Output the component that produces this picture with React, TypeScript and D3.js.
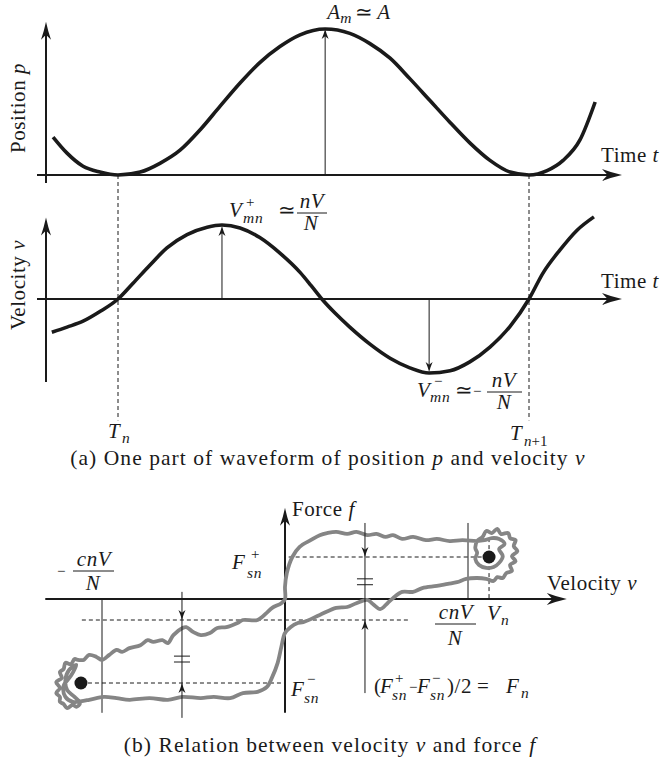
import React from 'react';
import * as d3 from 'd3';

// ---- Waveform data: time normalised so that T_n = 0 and T_{n+1} = 1 ----
const posT = [-0.158, -0.124, -0.085, -0.044, 0, 0.054, 0.102, 0.151, 0.2, 0.248, 0.297, 0.345, 0.394, 0.443, 0.504, 0.564, 0.613, 0.662, 0.71, 0.759, 0.808, 0.856, 0.905, 0.954, 1.0, 1.044, 1.083, 1.124, 1.161];
// position p / A
const posP = [0.26, 0.15, 0.06, 0.02, 0, 0.02, 0.08, 0.17, 0.31, 0.47, 0.63, 0.77, 0.88, 0.96, 1.0, 0.97, 0.9, 0.8, 0.66, 0.51, 0.36, 0.22, 0.1, 0.02, 0, 0.03, 0.1, 0.24, 0.5];

const velT = [-0.161, -0.124, -0.085, -0.044, 0, 0.036, 0.078, 0.119, 0.168, 0.217, 0.253, 0.297, 0.345, 0.394, 0.443, 0.47, 0.496, 0.528, 0.564, 0.613, 0.662, 0.71, 0.757, 0.808, 0.856, 0.905, 0.954, 1.0, 1.034, 1.075, 1.117, 1.158];
// velocity v / (nV/N)
const velV = [-0.45, -0.38, -0.3, -0.17, 0, 0.21, 0.46, 0.69, 0.87, 0.97, 1.0, 0.96, 0.83, 0.62, 0.36, 0.18, 0, -0.19, -0.38, -0.61, -0.8, -0.93, -1.0, -0.97, -0.85, -0.65, -0.37, 0, 0.35, 0.66, 0.93, 1.11];

const peakPosT = 0.504;   // A_m
const peakVelT = 0.253;   // V+_mn
const troughVelT = 0.757; // V-_mn
const periodMarks = [0, 1]; // T_n, T_{n+1}

// ---- Force / velocity loop: v in units of cnV/N, f in units of F+_sn ----
// branch leaving the origin towards negative velocity (upper side)
const upperLeftV = [0, -0.02, -0.07, -0.10, -0.15, -0.23, -0.26, -0.32, -0.37, -0.41, -0.46, -0.50, -0.54, -0.56, -0.61, -0.64, -0.67, -0.72, -0.75, -0.79, -0.85, -0.89, -0.92, -0.96, -1.00, -1.03, -1.07, -1.10];
const upperLeftF = [0, -0.10, -0.21, -0.33, -0.50, -0.50, -0.57, -0.67, -0.69, -0.81, -0.86, -0.79, -0.67, -0.69, -0.86, -1.05, -0.98, -1.02, -0.98, -1.10, -1.17, -1.26, -1.21, -1.33, -1.45, -1.38, -1.33, -1.45];
// reversal around -V_n
const leftTurnV = [-1.13, -1.15, -1.17, -1.20, -1.21, -1.23, -1.22, -1.25, -1.23, -1.25, -1.23, -1.23, -1.21, -1.19, -1.16, -1.14, -1.12, -1.15, -1.19, -1.20, -1.18, -1.14, -1.17, -1.21, -1.20, -1.16];
const leftTurnF = [-1.45, -1.43, -1.55, -1.52, -1.67, -1.74, -1.88, -1.98, -2.12, -2.24, -2.33, -2.45, -2.50, -2.60, -2.52, -2.57, -2.48, -2.33, -2.17, -1.93, -1.69, -1.57, -1.83, -2.07, -2.33, -2.45];
// lower branch back towards zero velocity
const lowerLeftV = [-1.14, -1.07, -0.99, -0.92, -0.85, -0.74, -0.64, -0.56, -0.46, -0.39, -0.30, -0.23, -0.15, -0.10, -0.07, -0.04, -0.02, 0, 0.03, 0.07];
const lowerLeftF = [-2.45, -2.40, -2.33, -2.36, -2.40, -2.36, -2.40, -2.33, -2.36, -2.33, -2.36, -2.24, -2.21, -2.10, -1.86, -1.52, -1.14, -0.81, -0.67, -0.57];
const lowerRightV = [0.10, 0.19, 0.28, 0.34, 0.39, 0.45, 0.48, 0.52, 0.56, 0.59, 0.64, 0.70, 0.75, 0.83, 0.89, 0.94, 0.99, 1.05];
const lowerRightF = [-0.55, -0.38, -0.21, -0.19, -0.10, -0.02, -0.12, -0.24, -0.10, 0.02, 0.17, 0.17, 0.26, 0.31, 0.36, 0.40, 0.48, 0.50];
// reversal around +V_n
const rightTurnV = [1.10, 1.14, 1.16, 1.19, 1.21, 1.24, 1.23, 1.26, 1.24, 1.27, 1.25, 1.26, 1.23, 1.22, 1.18, 1.16, 1.13, 1.10, 1.08, 1.05, 1.04, 1.05, 1.04, 1.06, 1.10, 1.14, 1.17, 1.19, 1.17, 1.20, 1.17, 1.13, 1.09, 1.05];
const rightTurnF = [0.48, 0.43, 0.52, 0.50, 0.62, 0.67, 0.81, 0.90, 1.02, 1.14, 1.26, 1.40, 1.45, 1.57, 1.55, 1.67, 1.57, 1.62, 1.48, 1.38, 1.21, 1.10, 0.95, 0.81, 0.74, 0.76, 0.86, 1.02, 1.19, 1.31, 1.43, 1.45, 1.40, 1.38];
// upper branch back to the origin
const upperRightV = [0.97, 0.90, 0.83, 0.77, 0.70, 0.64, 0.59, 0.55, 0.50, 0.45, 0.39, 0.34, 0.28, 0.23, 0.19, 0.14, 0.08, 0.04, 0.01, 0.0];
const upperRightF = [1.40, 1.38, 1.43, 1.40, 1.48, 1.43, 1.52, 1.48, 1.55, 1.52, 1.60, 1.55, 1.60, 1.57, 1.52, 1.40, 1.24, 1.00, 0.62, 0.29];

const loopV = [...upperLeftV, ...leftTurnV, ...lowerLeftV, ...lowerRightV, ...rightTurnV, ...upperRightV];
const loopF = [...upperLeftF, ...leftTurnF, ...lowerLeftF, ...lowerRightF, ...rightTurnF, ...upperRightF];

const cnVN = 1;          // ±cnV/N
const Vn = 1.115;        // steady-state velocity
const FsnPlus = 1;
const FsnMinus = -2;
const Fmean = (FsnPlus + FsnMinus) / 2;
const gapMarks = [-0.563, 0.437]; // where the F_n gaps are indicated

const INK = '#1a1a1a';

// Stealth-style arrow head; tip at (x,y), pointing along angle a
function head(x: number, y: number, a: number, len: number, hw: number) {
  const dx = Math.cos(a), dy = Math.sin(a);
  const bx = x - dx * len, by = y - dy * len;
  const px = -dy, py = dx;
  const nx = x - dx * len * 0.72, ny = y - dy * len * 0.72;
  const m1x = x - dx * len * 0.55 + px * hw * 0.42, m1y = y - dy * len * 0.55 + py * hw * 0.42;
  const m2x = x - dx * len * 0.55 - px * hw * 0.42, m2y = y - dy * len * 0.55 - py * hw * 0.42;
  return `M${x},${y} Q${m1x},${m1y} ${bx + px * hw},${by + py * hw} L${nx},${ny} L${bx - px * hw},${by - py * hw} Q${m2x},${m2y} ${x},${y} Z`;
}

const UP = -Math.PI / 2, DOWN = Math.PI / 2, RIGHT = 0;

const css = `
  .fig text { font-family: "Liberation Serif", "Times New Roman", serif; fill: ${INK}; }
  .fig .w { font-size: 21px; letter-spacing: 0.55px; }
  .fig .m { font-size: 21px; font-style: italic; letter-spacing: 0.6px; }
  .fig .s { font-size: 15.5px; font-style: italic; letter-spacing: 0.8px; }
  .fig .sr { font-size: 15px; }
  .fig .cap { font-size: 21.5px; letter-spacing: 1.05px; }
`;

export default function App() {
  // panel (a) scales
  const xT = d3.scaleLinear().domain([0, 1]).range([118, 529]);
  const yP = d3.scaleLinear().domain([0, 1]).range([175, 29]);
  const yV = d3.scaleLinear().domain([0, 1]).range([299, 225]);
  // panel (b) scales
  const xF = d3.scaleLinear().domain([0, 1]).range([285, 468]);
  const yF = d3.scaleLinear().domain([0, 1]).range([599, 557]);

  const posLine = d3.line<number>().x((_, i) => xT(posT[i])).y((d) => yP(d)).curve(d3.curveMonotoneX);
  const velLine = d3.line<number>().x((_, i) => xT(velT[i])).y((d) => yV(d)).curve(d3.curveMonotoneX);
  const loopLine = d3.line<number>().x((d) => xF(d)).y((_, i) => yF(loopF[i])).curve(d3.curveCatmullRomClosed.alpha(0.5));

  const tMin = xT.invert(37), tMax = xT.invert(622);
  const yAxisT = xT.invert(46);

  const thin = { stroke: INK, strokeWidth: 1, fill: 'none' } as const;
  const dash = { stroke: INK, strokeWidth: 1, strokeDasharray: '4 3', fill: 'none' } as const;
  const axis = { stroke: INK, strokeWidth: 2, fill: 'none' } as const;

  return (
    <svg className="fig" width={666} height={764} style={{ position: 'absolute', left: 0, top: 0, background: '#fff' }}>
      <style>{css}</style>
      <rect width={666} height={764} fill="#fff" />

      {/* ---------- position panel ---------- */}
      <line x1={xT(tMin)} x2={xT(tMax) - 10} y1={yP(0)} y2={yP(0)} {...axis} />
      <path d={head(xT(tMax), yP(0), RIGHT, 20, 6)} fill={INK} />
      <line x1={xT(yAxisT)} x2={xT(yAxisT)} y1={yP(-0.055)} y2={yP(1.05) + 10} {...axis} />
      <path d={head(xT(yAxisT), yP(1.05), UP, 18, 5)} fill={INK} />
      <path d={posLine(posP) || ''} stroke={INK} strokeWidth={3.6} fill="none" />
      <line x1={xT(peakPosT)} x2={xT(peakPosT)} y1={yP(0)} y2={yP(1) + 6} {...thin} />
      <path d={head(xT(peakPosT), yP(1), UP, 10, 3.5)} fill={INK} />

      <text className="w" transform="translate(25,108) rotate(-90)" textAnchor="middle">Position <tspan fontStyle="italic">p</tspan></text>
      <text className="w" x={601} y={162}>Time <tspan fontStyle="italic">t</tspan></text>
      <text className="m" x={xT(peakPosT) + 2} y={19}>A</text>
      <text className="s" x={xT(peakPosT) + 15} y={23}>m</text>
      <text className="w" x={xT(peakPosT) + 30} y={19}>≃</text>
      <text className="m" x={xT(peakPosT) + 52} y={19}>A</text>

      {/* ---------- velocity panel ---------- */}
      <line x1={xT(tMin)} x2={xT(tMax) - 10} y1={yV(0)} y2={yV(0)} {...axis} />
      <path d={head(xT(tMax), yV(0), RIGHT, 20, 6)} fill={INK} />
      <line x1={xT(yAxisT)} x2={xT(yAxisT)} y1={yV(-1.12)} y2={yV(1.1) + 10} {...axis} />
      <path d={head(xT(yAxisT), yV(1.1), UP, 18, 5)} fill={INK} />

      {periodMarks.map((t) => (
        <line key={t} x1={xT(t)} x2={xT(t)} y1={yP(0)} y2={yV(-1.64)} {...dash} />
      ))}

      <path d={velLine(velV) || ''} stroke={INK} strokeWidth={3.6} fill="none" />
      <line x1={xT(peakVelT)} x2={xT(peakVelT)} y1={yV(0)} y2={yV(1) + 6} {...thin} />
      <path d={head(xT(peakVelT), yV(1) + 1, UP, 10, 3.5)} fill={INK} />
      <line x1={xT(troughVelT)} x2={xT(troughVelT)} y1={yV(0)} y2={yV(-1) - 6} {...thin} />
      <path d={head(xT(troughVelT), yV(-1) - 1, DOWN, 10, 3.5)} fill={INK} />

      <text className="w" transform="translate(25,285) rotate(-90)" textAnchor="middle">Velocity <tspan fontStyle="italic">v</tspan></text>
      <text className="w" x={601} y={288}>Time <tspan fontStyle="italic">t</tspan></text>

      {/* V+_mn ≃ nV/N */}
      <text className="m" x={229} y={217}>V</text>
      <text className="sr" x={246} y={207}>+</text>
      <text className="s" x={243} y={223}>mn</text>
      <text className="w" x={278} y={217}>≃</text>
      <text className="m" x={312} y={208} textAnchor="middle">nV</text>
      <line x1={297} x2={327} y1={213} y2={213} stroke={INK} strokeWidth={1} />
      <text className="m" x={311} y={230} textAnchor="middle">N</text>

      {/* V-_mn ≃ -nV/N */}
      <text className="m" x={417} y={397}>V</text>
      <text className="sr" x={434} y={386}>−</text>
      <text className="s" x={430} y={402}>mn</text>
      <text className="w" x={455} y={397}>≃</text>
      <text className="sr" x={473} y={396}>−</text>
      <text className="m" x={504} y={387} textAnchor="middle">nV</text>
      <line x1={487} x2={522} y1={392} y2={392} stroke={INK} strokeWidth={1} />
      <text className="m" x={504} y={409} textAnchor="middle">N</text>

      {/* T_n, T_{n+1} */}
      <text className="m" x={xT(0) - 10} y={438}>T</text>
      <text className="s" x={xT(0) + 4} y={443}>n</text>
      <text className="m" x={xT(1) - 19} y={440}>T</text>
      <text className="sr" x={xT(1) - 5} y={446}><tspan fontStyle="italic">n</tspan>+1</text>

      <text className="cap" x={328} y={465} textAnchor="middle">(a) One part of waveform of position <tspan fontStyle="italic">p</tspan> and velocity <tspan fontStyle="italic">v</tspan></text>

      {/* ---------- force / velocity panel ---------- */}
      <line x1={xF(-1.31)} x2={xF(1.54) - 10} y1={yF(0)} y2={yF(0)} {...axis} />
      <path d={head(xF(1.54), yF(0), RIGHT, 20, 6)} fill={INK} />
      <line x1={xF(0)} x2={xF(0)} y1={yF(-2.71)} y2={yF(2.17) + 10} {...axis} />
      <path d={head(xF(0), yF(2.17), UP, 18, 5)} fill={INK} />

      {/* ±cnV/N guides */}
      <line x1={xF(-cnVN)} x2={xF(-cnVN)} y1={yF(0)} y2={yF(-2.71)} {...thin} />
      <line x1={xF(cnVN)} x2={xF(cnVN)} y1={yF(1.81)} y2={yF(0)} {...thin} />
      <line x1={xF(Vn)} x2={xF(Vn)} y1={yF(1.45)} y2={yF(0)} {...dash} />

      {/* static force levels */}
      <line x1={xF(0.02)} x2={xF(Vn)} y1={yF(FsnPlus)} y2={yF(FsnPlus)} {...dash} />
      <line x1={xF(-1.11)} x2={xF(0.672)} y1={yF(Fmean)} y2={yF(Fmean)} {...dash} />
      <line x1={xF(-Vn)} x2={xF(0)} y1={yF(FsnMinus)} y2={yF(FsnMinus)} {...dash} />

      <path d={loopLine(loopV) || ''} stroke="#858585" strokeWidth={3.8} fill="none" strokeLinejoin="round" />

      {/* F_n gap indicators */}
      <line x1={xF(gapMarks[0])} x2={xF(gapMarks[0])} y1={yF(0.17)} y2={yF(-2.83)} {...thin} />
      <path d={head(xF(gapMarks[0]), yF(Fmean), DOWN, 10, 3.5)} fill={INK} />
      <path d={head(xF(gapMarks[0]), yF(FsnMinus), UP, 10, 3.5)} fill={INK} />
      <line x1={xF(gapMarks[0]) - 8} x2={xF(gapMarks[0]) + 8} y1={yF(-1.36)} y2={yF(-1.36)} {...thin} />
      <line x1={xF(gapMarks[0]) - 8} x2={xF(gapMarks[0]) + 8} y1={yF(-1.5)} y2={yF(-1.5)} {...thin} />

      <line x1={xF(gapMarks[1])} x2={xF(gapMarks[1])} y1={yF(1.81)} y2={yF(-2.24)} {...thin} />
      <path d={head(xF(gapMarks[1]), yF(FsnPlus), DOWN, 10, 3.5)} fill={INK} />
      <path d={head(xF(gapMarks[1]), yF(Fmean), UP, 10, 3.5)} fill={INK} />
      <line x1={xF(gapMarks[1]) - 8} x2={xF(gapMarks[1]) + 8} y1={yF(0.48)} y2={yF(0.48)} {...thin} />
      <line x1={xF(gapMarks[1]) - 8} x2={xF(gapMarks[1]) + 8} y1={yF(0.34)} y2={yF(0.34)} {...thin} />

      <circle cx={xF(Vn)} cy={yF(FsnPlus)} r={6.5} fill={INK} />
      <circle cx={xF(-Vn)} cy={yF(FsnMinus)} r={6.5} fill={INK} />

      <text className="w" x={292} y={516}>Force <tspan fontStyle="italic">f</tspan></text>
      <text className="w" x={547} y={590}>Velocity <tspan fontStyle="italic">v</tspan></text>

      {/* -cnV/N */}
      <text className="sr" x={57} y={576}>−</text>
      <text className="m" x={94} y={566} textAnchor="middle">cnV</text>
      <line x1={73} x2={114} y1={571} y2={571} stroke={INK} strokeWidth={1} />
      <text className="m" x={93} y={590} textAnchor="middle">N</text>

      {/* cnV/N, V_n */}
      <text className="m" x={456} y={619} textAnchor="middle">cnV</text>
      <line x1={435} x2={476} y1={624} y2={624} stroke={INK} strokeWidth={1} />
      <text className="m" x={455} y={645} textAnchor="middle">N</text>
      <text className="m" x={487} y={620}>V</text>
      <text className="s" x={501} y={625}>n</text>

      {/* F+_sn, F-_sn */}
      <text className="m" x={232} y={569}>F</text>
      <text className="sr" x={251} y={559}>+</text>
      <text className="s" x={247} y={578}>sn</text>
      <text className="m" x={291} y={696}>F</text>
      <text className="sr" x={307} y={684}>−</text>
      <text className="s" x={304} y={703}>sn</text>

      {/* (F+_sn - F-_sn)/2 = F_n */}
      <text className="w" x={374} y={693}>(</text>
      <text className="m" x={380} y={693}>F</text>
      <text className="sr" x={395} y={683}>+</text>
      <text className="s" x={392} y={700}>sn</text>
      <text className="sr" x={409} y={692}>−</text>
      <text className="m" x={417} y={693}>F</text>
      <text className="sr" x={432} y={683}>−</text>
      <text className="s" x={430} y={700}>sn</text>
      <text className="w" x={447} y={693}>)/2</text>
      <text className="w" x={477} y={693}>=</text>
      <text className="m" x={506} y={693}>F</text>
      <text className="s" x={521} y={698}>n</text>

      <text className="cap" x={330} y={752} textAnchor="middle">(b) Relation between velocity <tspan fontStyle="italic">v</tspan> and force <tspan fontStyle="italic">f</tspan></text>
    </svg>
  );
}
